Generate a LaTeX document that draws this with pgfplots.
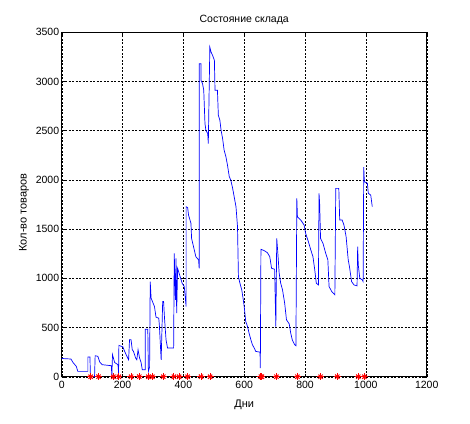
\documentclass[border=0pt]{standalone}
\usepackage{fontspec}
\setmainfont{Liberation Sans}
\usepackage{pgfplots}
\pgfplotsset{compat=1.18}
\pgfplotstableread{
x y
95 0
121 0
170 0
188 0
228 0
255 0
285 0
298 0
334 0
369 0
386 0
414 0
458 0
488 0
655 0
658 0
706 0
775 0
851 0
906 0
975 0
995 0
}\stars
\begin{document}
\begin{tikzpicture}[x=1pt,y=1pt]
\path[use as bounding box] (-61.7pt,-46.3pt) rectangle (408.3pt,376.7pt);
\begin{axis}[
  at={(0pt,0pt)}, anchor=origin,
  scale only axis, width=365pt, height=344.4pt,
  xmin=0, xmax=1200, ymin=0, ymax=3500,
  clip=false,
  xtick={0,200,...,1200}, ytick={0,500,...,3500},
  grid=major,
  major grid style={black, line width=0.4pt, dash pattern=on 2pt off 1.5pt},
  axis line style={black, line width=0.5pt},
  tick style={black, line width=0.4pt},
  tick align=inside, major tick length=3pt,
  tick label style={font=\fontsize{10.5}{12}\selectfont},
  /pgf/number format/assume math mode=true,
  /pgf/number format/1000 sep={},
  xticklabel style={yshift=-1pt},
  yticklabel style={xshift=1pt},
  title={Состояние склада},
  title style={font=\fontsize{10.5}{12}\selectfont, yshift=-2pt},
  xlabel={Дни}, ylabel={Кол-во товаров},
  label style={font=\fontsize{11}{13}\selectfont},
  xlabel style={yshift=-4pt},
  ylabel style={yshift=0pt, xshift=-8pt},
]
\addplot[blue, line width=0.7pt] coordinates {
(0,185) (30,180) (32,172) (37,145) (48,105) (53,54) (86,54) (86,200) (93,200)
(94,40) (96,0) (108,0) (110,213) (119,207) (125,150) (133,122) (163,112) (165,10)
(167,223) (174,145) (185,122) (187,40) (188,318) (201,304) (207,257) (217,190)
(220,172) (223,375) (228,375) (232,274) (236,257) (243,190) (247,172) (251,274)
(256,190) (261,145) (265,71) (275,71) (275,483) (283,483) (285,54) (289,100)
(291,967) (294,798) (305,713) (310,605) (319,595) (321,527) (327,172) (332,764)
(335,764) (338,595) (343,375) (348,291) (368,291) (370,1254) (374,781) (376,1203)
(378,646) (381,1102) (396,950) (403,916) (409,713) (409,1727) (414,1720) (417,1643)
(425,1558) (427,1406) (441,1220) (450,1187) (452,1100) (452,3181) (458,3181)
(458,3012) (463,2978) (467,2911) (471,2573) (474,2505) (480,2471) (482,2370)
(487,3350) (491,3299) (496,3266) (502,3215) (504,2911) (512,2911) (515,2657)
(520,2606) (524,2505) (529,2420) (534,2302) (540,2234) (545,2150) (551,2032)
(556,1998) (562,1914) (567,1829) (573,1727) (578,1525) (581,1017) (586,950)
(592,882) (597,781) (600,713) (605,561) (611,510) (616,443) (622,375) (627,325)
(633,291) (638,257) (652,250) (653,88) (655,1295) (666,1281) (676,1261) (684,1220)
(690,1102) (700,1092) (704,510) (707,1406) (711,1237) (715,1051) (720,950)
(726,882) (733,747) (739,578) (748,537) (753,443) (758,375) (766,325) (770,315)
(773,1812) (775,1626) (786,1592) (797,1541) (802,1456) (811,1372) (819,1288)
(826,1220) (832,1085) (837,950) (844,933) (846,1863) (848,1761) (851,1406)
(859,1355) (868,1254) (875,1187) (879,916) (888,865) (898,832) (901,1914)
(911,1914) (914,1592) (922,1592) (928,1541) (935,1423) (939,1288) (942,1187)
(946,1119) (953,967) (961,933) (971,923) (973,1321) (975,1136) (980,1001)
(988,984) (991,966) (993,2130) (995,1982) (1005,1965) (1008,1864) (1016,1846)
(1021,1728)
};
\addplot[only marks, red, mark=+, mark size=3.6pt, line width=1pt] table {\stars};
\addplot[only marks, red, mark=x, mark size=3pt, line width=1pt] table {\stars};
\end{axis}
\end{tikzpicture}
\end{document}
